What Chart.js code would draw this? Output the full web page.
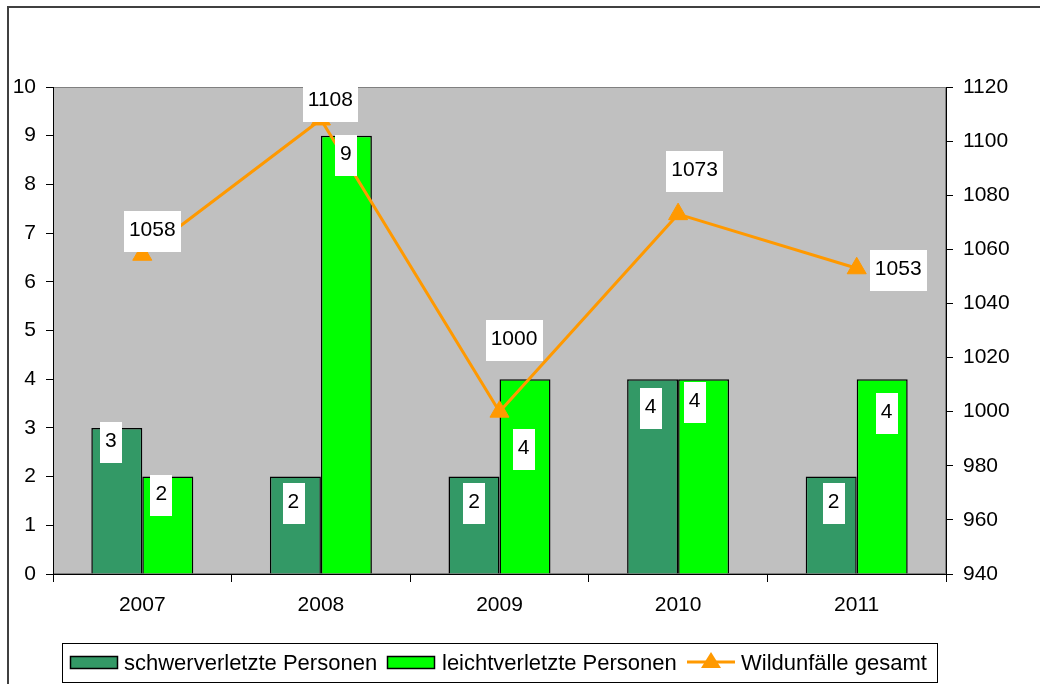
<!DOCTYPE html>
<html>
<head>
<meta charset="utf-8">
<script src="https://cdn.jsdelivr.net/npm/chart.js@4"></script>
<style>
  html, body { margin: 0; padding: 0; background: #fff; }
  #wrap { width: 1040px; height: 684px; position: relative; }
</style>
</head>
<body>
<div id="wrap"><canvas id="c" width="1040" height="684"></canvas></div>
<script>
// Jahre und Werte
const years = ['2007', '2008', '2009', '2010', '2011'];
const schwerverletzte = [3, 2, 2, 4, 2];
const leichtverletzte = [2, 9, 4, 4, 4];
const wildunfaelle = [1058, 1108, 1000, 1073, 1053];

const FONT = '"Liberation Sans", Arial, sans-serif';

// Positionen der Wertebeschriftungen (Mittelpunkt der Box relativ zum Element)
const labelOffsets = [
  [[-6, 15], [-2, 27], [0, 27], [-2, 29.5], [2.5, 27]],
  [[-6.5, 19], [-0.5, 20], [-1.5, 70], [-9, 23.5], [4.5, 34]],
  [[10, -23.5], [9.5, -17.5], [14.5, -71], [16.5, -42.5], [41.5, 2]]
];

const frame = {
  id: 'frame',
  beforeDraw(chart) {
    const { ctx, chartArea: a } = chart;
    ctx.save();
    ctx.fillStyle = '#fff';
    ctx.fillRect(0, 0, chart.width, chart.height);
    ctx.strokeStyle = '#404040';
    ctx.lineWidth = 2;
    ctx.strokeRect(8, 7, chart.width + 20, chart.height + 20);
    ctx.fillStyle = '#C0C0C0';
    ctx.fillRect(a.left, a.top, a.right - a.left, a.bottom - a.top);
    ctx.strokeStyle = '#808080';
    ctx.lineWidth = 1;
    ctx.strokeRect(a.left + 0.5, a.top + 0.5, a.right - a.left - 1, a.bottom - a.top - 1);
    ctx.restore();
  }
};

const valueLabels = {
  id: 'valueLabels',
  afterDatasetsDraw(chart) {
    const { ctx } = chart;
    ctx.save();
    ctx.font = '21px ' + FONT;
    chart.data.datasets.forEach((ds, di) => {
      const meta = chart.getDatasetMeta(di);
      meta.data.forEach((el, i) => {
        const txt = String(ds.data[i]);
        const w = ctx.measureText(txt).width + 10;
        const h = 41;
        const cx = el.x + labelOffsets[di][i][0];
        const cy = el.y + labelOffsets[di][i][1];
        ctx.fillStyle = '#fff';
        ctx.fillRect(Math.round(cx - w / 2), Math.round(cy - h / 2), Math.round(w), h);
        ctx.fillStyle = '#000';
        ctx.textAlign = 'center';
        ctx.textBaseline = 'alphabetic';
        ctx.fillText(txt, cx, cy + 4.5);
      });
    });
    ctx.restore();
  }
};

const boxLegend = {
  id: 'boxLegend',
  afterDraw(chart) {
    const { ctx } = chart;
    const ds = chart.data.datasets;
    ctx.save();
    ctx.fillStyle = '#fff';
    ctx.fillRect(62, 643, 875, 39);
    ctx.strokeStyle = '#000';
    ctx.lineWidth = 1;
    ctx.strokeRect(62.5, 643.5, 875, 39);
    ctx.font = '22px ' + FONT;
    ctx.textBaseline = 'alphabetic';
    ctx.textAlign = 'left';
    const yc = 662;
    // Balken-Symbole
    [[70, 124], [387, 442]].forEach(([x, tx], k) => {
      ctx.fillStyle = ds[k].backgroundColor;
      ctx.fillRect(x, 656, 47, 12);
      ctx.strokeStyle = '#000';
      ctx.lineWidth = 1.5;
      ctx.strokeRect(x + 0.5, 656.5, 47, 12);
      ctx.fillStyle = '#000';
      ctx.fillText(ds[k].label, tx, yc + 8);
    });
    // Linien-Symbol
    const l = ds[2];
    ctx.strokeStyle = l.borderColor;
    ctx.lineWidth = 3;
    ctx.beginPath();
    ctx.moveTo(687, yc);
    ctx.lineTo(735, yc);
    ctx.stroke();
    ctx.fillStyle = l.borderColor;
    ctx.beginPath();
    ctx.moveTo(711, yc - 10);
    ctx.lineTo(721, yc + 6);
    ctx.lineTo(701, yc + 6);
    ctx.closePath();
    ctx.fill();
    ctx.fillStyle = '#000';
    ctx.fillText(l.label, 741, yc + 8);
    ctx.restore();
  }
};

const plain = (v) => String(v);

new Chart(document.getElementById('c'), {
  data: {
    labels: years,
    datasets: [
      {
        type: 'bar',
        label: 'schwerverletzte Personen',
        data: schwerverletzte,
        backgroundColor: '#339966',
        borderColor: '#000',
        borderWidth: 1.5,
        yAxisID: 'y',
        categoryPercentage: 0.571,
        barPercentage: 1,
        order: 2
      },
      {
        type: 'bar',
        label: 'leichtverletzte Personen',
        data: leichtverletzte,
        backgroundColor: '#00FF00',
        borderColor: '#000',
        borderWidth: 1.5,
        yAxisID: 'y',
        categoryPercentage: 0.571,
        barPercentage: 1,
        order: 2
      },
      {
        type: 'line',
        label: 'Wildunfälle gesamt',
        data: wildunfaelle,
        borderColor: '#FF9900',
        backgroundColor: '#FF9900',
        borderWidth: 3,
        pointStyle: 'triangle',
        pointRadius: 11,
        pointBackgroundColor: '#FF9900',
        pointBorderColor: '#FF9900',
        pointBorderWidth: 1,
        tension: 0,
        yAxisID: 'y1',
        order: 1
      }
    ]
  },
  options: {
    responsive: false,
    animation: false,
    devicePixelRatio: 1,
    layout: { padding: { top: 87, left: 0, right: 0, bottom: 70 } },
    plugins: { legend: { display: false }, tooltip: { enabled: false } },
    scales: {
      x: {
        offset: true,
        grid: { offset: true, drawOnChartArea: false, drawTicks: true, tickLength: 8, color: '#000' },
        border: { display: true, color: '#000' },
        ticks: { color: '#000', font: { family: FONT, size: 21 }, padding: 11 },
        afterFit(s) { s.height = 40; }
      },
      y: {
        position: 'left',
        min: 0, max: 10,
        ticks: { stepSize: 1, color: '#000', font: { family: FONT, size: 21 }, padding: 10, callback: plain },
        grid: { drawOnChartArea: false, drawTicks: true, tickLength: 7, color: '#000' },
        border: { display: true, color: '#000' },
        afterFit(s) { s.width = 53; }
      },
      y1: {
        position: 'right',
        min: 940, max: 1120,
        ticks: { stepSize: 20, color: '#000', font: { family: FONT, size: 21 }, padding: 10, callback: plain },
        grid: { drawOnChartArea: false, drawTicks: true, tickLength: 7, color: '#000' },
        border: { display: true, color: '#000' },
        afterFit(s) { s.width = 94; }
      }
    }
  },
  plugins: [frame, valueLabels, boxLegend]
});
</script>
</body>
</html>
